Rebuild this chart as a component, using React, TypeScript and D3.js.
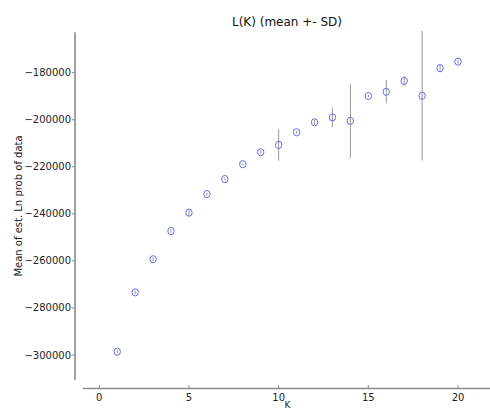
import React, { useRef, useEffect } from 'react';
import * as d3 from 'd3';

const ks = [1, 2, 3, 4, 5, 6, 7, 8, 9, 10, 11, 12, 13, 14, 15, 16, 17, 18, 19, 20];
const means = [-298600, -273400, -259300, -247300, -239500, -231600, -225200, -218900, -213800, -210700,
  -205300, -201100, -199000, -200500, -189900, -188100, -183500, -189800, -178100, -175300];
const sds = [600, 800, 900, 700, 1200, 700, 600, 500, 1000, 6700,
  600, 1200, 4200, 15900, 700, 5000, 2000, 27600, 1500, 1000];
const xTicks = [0, 5, 10, 15, 20];
const yTicks = [-300000, -280000, -260000, -240000, -220000, -200000, -180000];

const App = () => {
  const ref = useRef<SVGSVGElement>(null);

  useEffect(() => {
    const svg = d3.select(ref.current);
    svg.selectAll('*').remove();

    const width = 490, height = 410;
    svg.attr('width', width).attr('height', height);

    const x = d3.scaleLinear().domain([0, 20]).range([99.3, 458]);
    const y = d3.scaleLinear().domain([-300000, -180000]).range([355, 72.7]);

    const font = 'DejaVu Sans, sans-serif';
    const spine = '#8a8a8a';

    // left spine (detached)
    svg.append('line')
      .attr('x1', 75).attr('x2', 75)
      .attr('y1', 32.3).attr('y2', 380)
      .attr('stroke', spine).attr('stroke-width', 1.6);

    // bottom spine
    svg.append('line')
      .attr('x1', x(-0.92)).attr('x2', width)
      .attr('y1', 388.5).attr('y2', 388.5)
      .attr('stroke', spine).attr('stroke-width', 1.6);

    // y ticks
    const yt = svg.append('g');
    yt.selectAll('line').data(yTicks).enter().append('line')
      .attr('x1', 72).attr('x2', 75)
      .attr('y1', (d) => y(d)).attr('y2', (d) => y(d))
      .attr('stroke', spine);
    yt.selectAll('text').data(yTicks).enter().append('text')
      .attr('x', 71).attr('y', (d) => y(d) + 3.5)
      .attr('text-anchor', 'end')
      .attr('font-family', font).attr('font-size', '10px').attr('fill', '#222')
      .text((d) => '\u2212' + Math.abs(d));

    // x ticks
    const xt = svg.append('g');
    xt.selectAll('line').data(xTicks).enter().append('line')
      .attr('x1', (d) => x(d)).attr('x2', (d) => x(d))
      .attr('y1', 385).attr('y2', 388.5)
      .attr('stroke', spine);
    xt.selectAll('text').data(xTicks).enter().append('text')
      .attr('x', (d) => x(d)).attr('y', 401)
      .attr('text-anchor', 'middle')
      .attr('font-family', font).attr('font-size', '10px').attr('fill', '#222')
      .text((d) => d);

    // error bars
    svg.append('g').selectAll('line').data(ks).enter().append('line')
      .attr('x1', (d) => x(d)).attr('x2', (d) => x(d))
      .attr('y1', (d, i) => y(means[i] + sds[i]))
      .attr('y2', (d, i) => y(means[i] - sds[i]))
      .attr('stroke', '#999').attr('stroke-width', 1);

    // markers
    svg.append('g').selectAll('ellipse').data(ks).enter().append('ellipse')
      .attr('cx', (d) => x(d)).attr('cy', (d, i) => y(means[i]))
      .attr('rx', 3.2).attr('ry', 3.6)
      .attr('fill', 'none')
      .attr('stroke', '#6b6bdc').attr('stroke-width', 1);

    // title
    svg.append('text')
      .attr('x', 287).attr('y', 26)
      .attr('text-anchor', 'middle')
      .attr('font-family', font).attr('font-size', '12px').attr('fill', '#111')
      .text('L(K) (mean +- SD)');

    // axis labels
    svg.append('text')
      .attr('x', 287.5).attr('y', 408)
      .attr('text-anchor', 'middle')
      .attr('font-family', font).attr('font-size', '9px').attr('fill', '#222')
      .text('K');

    svg.append('text')
      .attr('transform', 'translate(22,206) rotate(-90)')
      .attr('text-anchor', 'middle')
      .attr('font-family', font).attr('font-size', '10px').attr('fill', '#222')
      .text('Mean of est. Ln prob of data');
  }, []);

  return <svg ref={ref} style={{ position: 'absolute', left: 0, top: 0 }}></svg>;
};

export default App;
